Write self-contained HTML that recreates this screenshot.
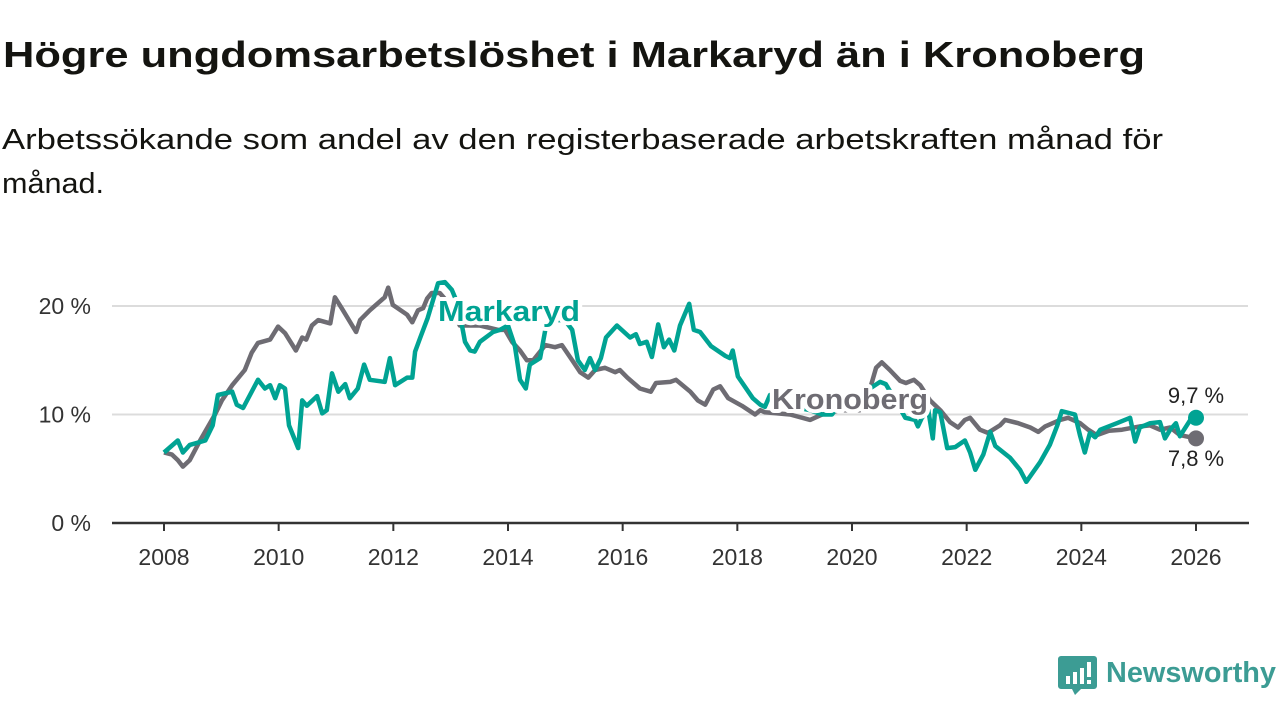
<!DOCTYPE html>
<html><head><meta charset="utf-8"><style>
html,body{margin:0;padding:0;background:#fff;width:1280px;height:720px;overflow:hidden}
svg{display:block;font-family:"Liberation Sans",sans-serif}
</style></head><body>
<svg id="chart" width="1280" height="720" viewBox="0 0 1280 720">
<text x="3" y="67" font-size="36" font-weight="bold" fill="#141410" textLength="1142" lengthAdjust="spacingAndGlyphs">Högre ungdomsarbetslöshet i Markaryd än i Kronoberg</text>
<text x="2" y="149" font-size="29" fill="#141410" textLength="1161" lengthAdjust="spacingAndGlyphs">Arbetssökande som andel av den registerbaserade arbetskraften månad för</text>
<text x="2" y="193" font-size="29" fill="#141410" textLength="102" lengthAdjust="spacingAndGlyphs">månad.</text>
<g id="grid"></g>
<g id="axes"></g>
<g id="series"></g>
<g id="labels"></g>
<g>
<path d="M1061 656 h33 a3 3 0 0 1 3 3 v27 a3 3 0 0 1 -3 3 h-13 l-6 6 l-3 -6 h-11 a3 3 0 0 1 -3 -3 v-27 a3 3 0 0 1 3 -3z" fill="#3c9c94"/>
<rect x="1066" y="676" width="4" height="8" fill="#fff"/><rect x="1073" y="672" width="4" height="12" fill="#fff"/><rect x="1080" y="668" width="4" height="16" fill="#fff"/><rect x="1087" y="662" width="4" height="15" fill="#fff"/><rect x="1087" y="680" width="4" height="4" fill="#fff"/>
<text x="1106" y="682" font-size="29" font-weight="bold" fill="#3c9c94" textLength="170" lengthAdjust="spacingAndGlyphs">Newsworthy</text>
</g>
</svg>
<script>
const yTicks=[0,10,20];
const yTickLabels=["0 %","10 %","20 %"];
const xTicks=[2008,2010,2012,2014,2016,2018,2020,2022,2024,2026];
const markarydX=[2008.00,2008.24,2008.33,2008.45,2008.72,2008.85,2008.94,2009.19,2009.27,2009.38,2009.64,2009.76,2009.85,2009.94,2010.02,2010.11,2010.18,2010.34,2010.41,2010.49,2010.67,2010.76,2010.84,2010.93,2011.04,2011.16,2011.24,2011.38,2011.49,2011.59,2011.85,2011.94,2012.03,2012.24,2012.33,2012.38,2012.47,2012.60,2012.78,2012.90,2013.02,2013.13,2013.25,2013.34,2013.42,2013.51,2013.74,2013.86,2014.00,2014.12,2014.21,2014.31,2014.38,2014.56,2014.65,2014.82,2014.99,2015.12,2015.22,2015.34,2015.43,2015.52,2015.62,2015.71,2015.90,2016.13,2016.23,2016.30,2016.42,2016.51,2016.62,2016.72,2016.81,2016.90,2017.00,2017.16,2017.24,2017.35,2017.54,2017.79,2017.87,2017.92,2018.01,2018.27,2018.40,2018.48,2018.57,2018.74,2019.09,2019.27,2019.48,2019.65,2019.79,2020.14,2020.49,2020.59,2020.80,2020.93,2021.10,2021.15,2021.22,2021.33,2021.41,2021.45,2021.54,2021.66,2021.80,2021.97,2022.06,2022.15,2022.29,2022.41,2022.50,2022.76,2022.93,2023.04,2023.28,2023.45,2023.58,2023.66,2023.89,2023.98,2024.06,2024.15,2024.24,2024.33,2024.62,2024.85,2024.94,2025.02,2025.20,2025.37,2025.46,2025.55,2025.65,2025.72,2025.90,2026.00];
const markarydY=[6.5,7.6,6.5,7.2,7.6,9.0,11.8,12.1,10.9,10.6,13.2,12.4,12.7,11.5,12.7,12.4,9.0,6.9,11.3,10.8,11.7,10.1,10.4,13.8,12.1,12.8,11.5,12.4,14.6,13.2,13.0,15.2,12.7,13.4,13.4,15.8,17.1,18.9,22.1,22.2,21.5,20.1,16.7,15.9,15.8,16.7,17.6,17.8,18.2,16.3,13.2,12.4,14.6,15.2,17.8,18.7,18.7,17.8,15.0,14.1,15.2,14.1,15.2,17.1,18.2,17.1,17.4,16.5,16.7,15.3,18.3,16.2,16.9,15.9,18.2,20.2,17.8,17.6,16.3,15.4,15.2,15.9,13.5,11.5,10.9,10.7,11.8,11.3,10.6,10.4,10.0,10.0,11.0,11.8,13.0,12.8,10.9,9.7,9.5,8.9,9.7,10.4,7.8,10.4,10.2,6.9,7.0,7.6,6.5,4.9,6.3,8.4,7.1,6.0,4.9,3.8,5.6,7.2,9.0,10.3,10.0,8.0,6.5,8.3,7.9,8.6,9.2,9.7,7.5,8.8,9.2,9.3,7.8,8.6,9.2,8.0,9.5,9.7];
const kronobergX=[2008.00,2008.14,2008.24,2008.33,2008.45,2008.63,2008.89,2009.01,2009.19,2009.41,2009.53,2009.64,2009.85,2009.99,2010.11,2010.30,2010.41,2010.48,2010.58,2010.69,2010.90,2010.98,2011.10,2011.35,2011.42,2011.59,2011.85,2011.91,2011.99,2012.24,2012.33,2012.43,2012.52,2012.59,2012.67,2012.81,2012.99,2013.16,2013.34,2013.51,2013.83,2013.95,2014.07,2014.21,2014.33,2014.44,2014.65,2014.82,2014.94,2015.12,2015.26,2015.40,2015.52,2015.69,2015.87,2015.95,2016.08,2016.30,2016.49,2016.58,2016.83,2016.93,2017.18,2017.31,2017.44,2017.58,2017.70,2017.84,2018.08,2018.31,2018.40,2018.48,2018.92,2019.27,2019.48,2019.79,2020.14,2020.31,2020.42,2020.52,2020.66,2020.84,2020.94,2021.08,2021.19,2021.36,2021.54,2021.71,2021.85,2021.97,2022.06,2022.23,2022.37,2022.58,2022.67,2022.90,2023.11,2023.25,2023.37,2023.63,2023.77,2023.98,2024.12,2024.27,2024.48,2024.71,2025.02,2025.20,2025.37,2025.55,2025.72,2026.00];
const kronobergY=[6.5,6.3,5.8,5.2,5.8,7.6,10.0,11.3,12.7,14.1,15.7,16.6,16.9,18.1,17.5,15.9,17.1,16.9,18.2,18.7,18.4,20.8,19.8,17.6,18.7,19.6,20.8,21.7,20.1,19.2,18.5,19.6,19.8,20.7,21.2,21.2,20.1,18.2,18.2,18.2,17.8,17.8,16.7,15.9,15.0,15.0,16.4,16.2,16.4,15.0,13.9,13.4,14.1,14.3,13.9,14.1,13.4,12.4,12.1,12.9,13.0,13.2,12.1,11.3,10.9,12.3,12.6,11.5,10.8,10.0,10.4,10.2,10.0,9.5,10.0,10.4,10.4,12.3,14.3,14.8,14.1,13.1,12.9,13.2,12.7,11.3,10.4,9.3,8.8,9.5,9.7,8.6,8.3,9.0,9.5,9.2,8.8,8.4,8.9,9.5,9.7,9.2,8.6,8.1,8.5,8.6,8.9,9.0,8.6,8.8,8.1,7.8];
const endLabels=["9,7 %","7,8 %"];

const NS="http://www.w3.org/2000/svg";
const X0=164,X1=1196,Y0=523,Y20=306;
function xs(v){return X0+(v-2008)/(2026-2008)*(X1-X0);}
function ys(v){return Y0-v/20*(Y0-Y20);}
function mk(tag,attrs,parent){const e=document.createElementNS(NS,tag);for(const k in attrs)e.setAttribute(k,attrs[k]);parent.appendChild(e);return e;}
const grid=document.getElementById('grid'),axes=document.getElementById('axes'),series=document.getElementById('series'),labels=document.getElementById('labels');
yTicks.forEach((t,i)=>{
  if(t>0){const g=mk('line',{x1:112,x2:1248,y1:ys(t),y2:ys(t),stroke:'#dcdcdc','stroke-width':2},grid);
  
  }
  const l=mk('text',{x:91,y:ys(t)+8,'text-anchor':'end','font-size':23,fill:'#333'},axes);
  l.textContent=yTickLabels[i];
  
  
});
const ax=mk('line',{x1:112,x2:1249,y1:Y0,y2:Y0,stroke:'#333','stroke-width':2.5},axes);


xTicks.forEach(t=>{
  const tk=mk('line',{x1:xs(t),x2:xs(t),y1:Y0,y2:Y0+8,stroke:'#333','stroke-width':2},axes);
  
  
  const l=mk('text',{x:xs(t),y:565,'text-anchor':'middle','font-size':23,fill:'#333'},axes);
  l.textContent=t;
  
  
});
function pts(X,Y){return X.map((x,i)=>xs(x).toFixed(1)+','+ys(Y[i]).toFixed(1)).join(' ');}
const kl=mk('polyline',{points:pts(kronobergX,kronobergY),fill:'none',stroke:'#6e6c73','stroke-width':4.5,'stroke-linejoin':'round'},series);


const ml=mk('polyline',{points:pts(markarydX,markarydY),fill:'none',stroke:'#00a393','stroke-width':4.5,'stroke-linejoin':'round'},series);


const kd=mk('circle',{cx:xs(kronobergX[kronobergX.length-1]),cy:ys(kronobergY[kronobergY.length-1]),r:8,fill:'#6e6c73'},series);


const md=mk('circle',{cx:xs(markarydX[markarydX.length-1]),cy:ys(markarydY[markarydY.length-1]),r:8,fill:'#00a393'},series);


function lbl(txt,x,y,col,name,w){
  const h=mk('text',{x:x,y:y,'font-size':29,'font-weight':'bold',fill:'#fff',stroke:'#fff','stroke-width':8,'stroke-linejoin':'round',textLength:w,lengthAdjust:'spacingAndGlyphs'},labels);h.textContent=txt;
  
  
  const t=mk('text',{x:x,y:y,'font-size':29,'font-weight':'bold',fill:col,textLength:w,lengthAdjust:'spacingAndGlyphs'},labels);t.textContent=txt;
  
  
}
lbl('Markaryd',438,321,'#00a393','markaryd-label',142);
lbl('Kronoberg',772,409,'#6e6c73','kronoberg-label',156);
const e1=mk('text',{x:1196,y:403,'text-anchor':'middle','font-size':22,fill:'#222'},labels);
e1.textContent=endLabels[0];


const e2=mk('text',{x:1196,y:466,'text-anchor':'middle','font-size':22,fill:'#222'},labels);
e2.textContent=endLabels[1];


</script>
</body></html>
